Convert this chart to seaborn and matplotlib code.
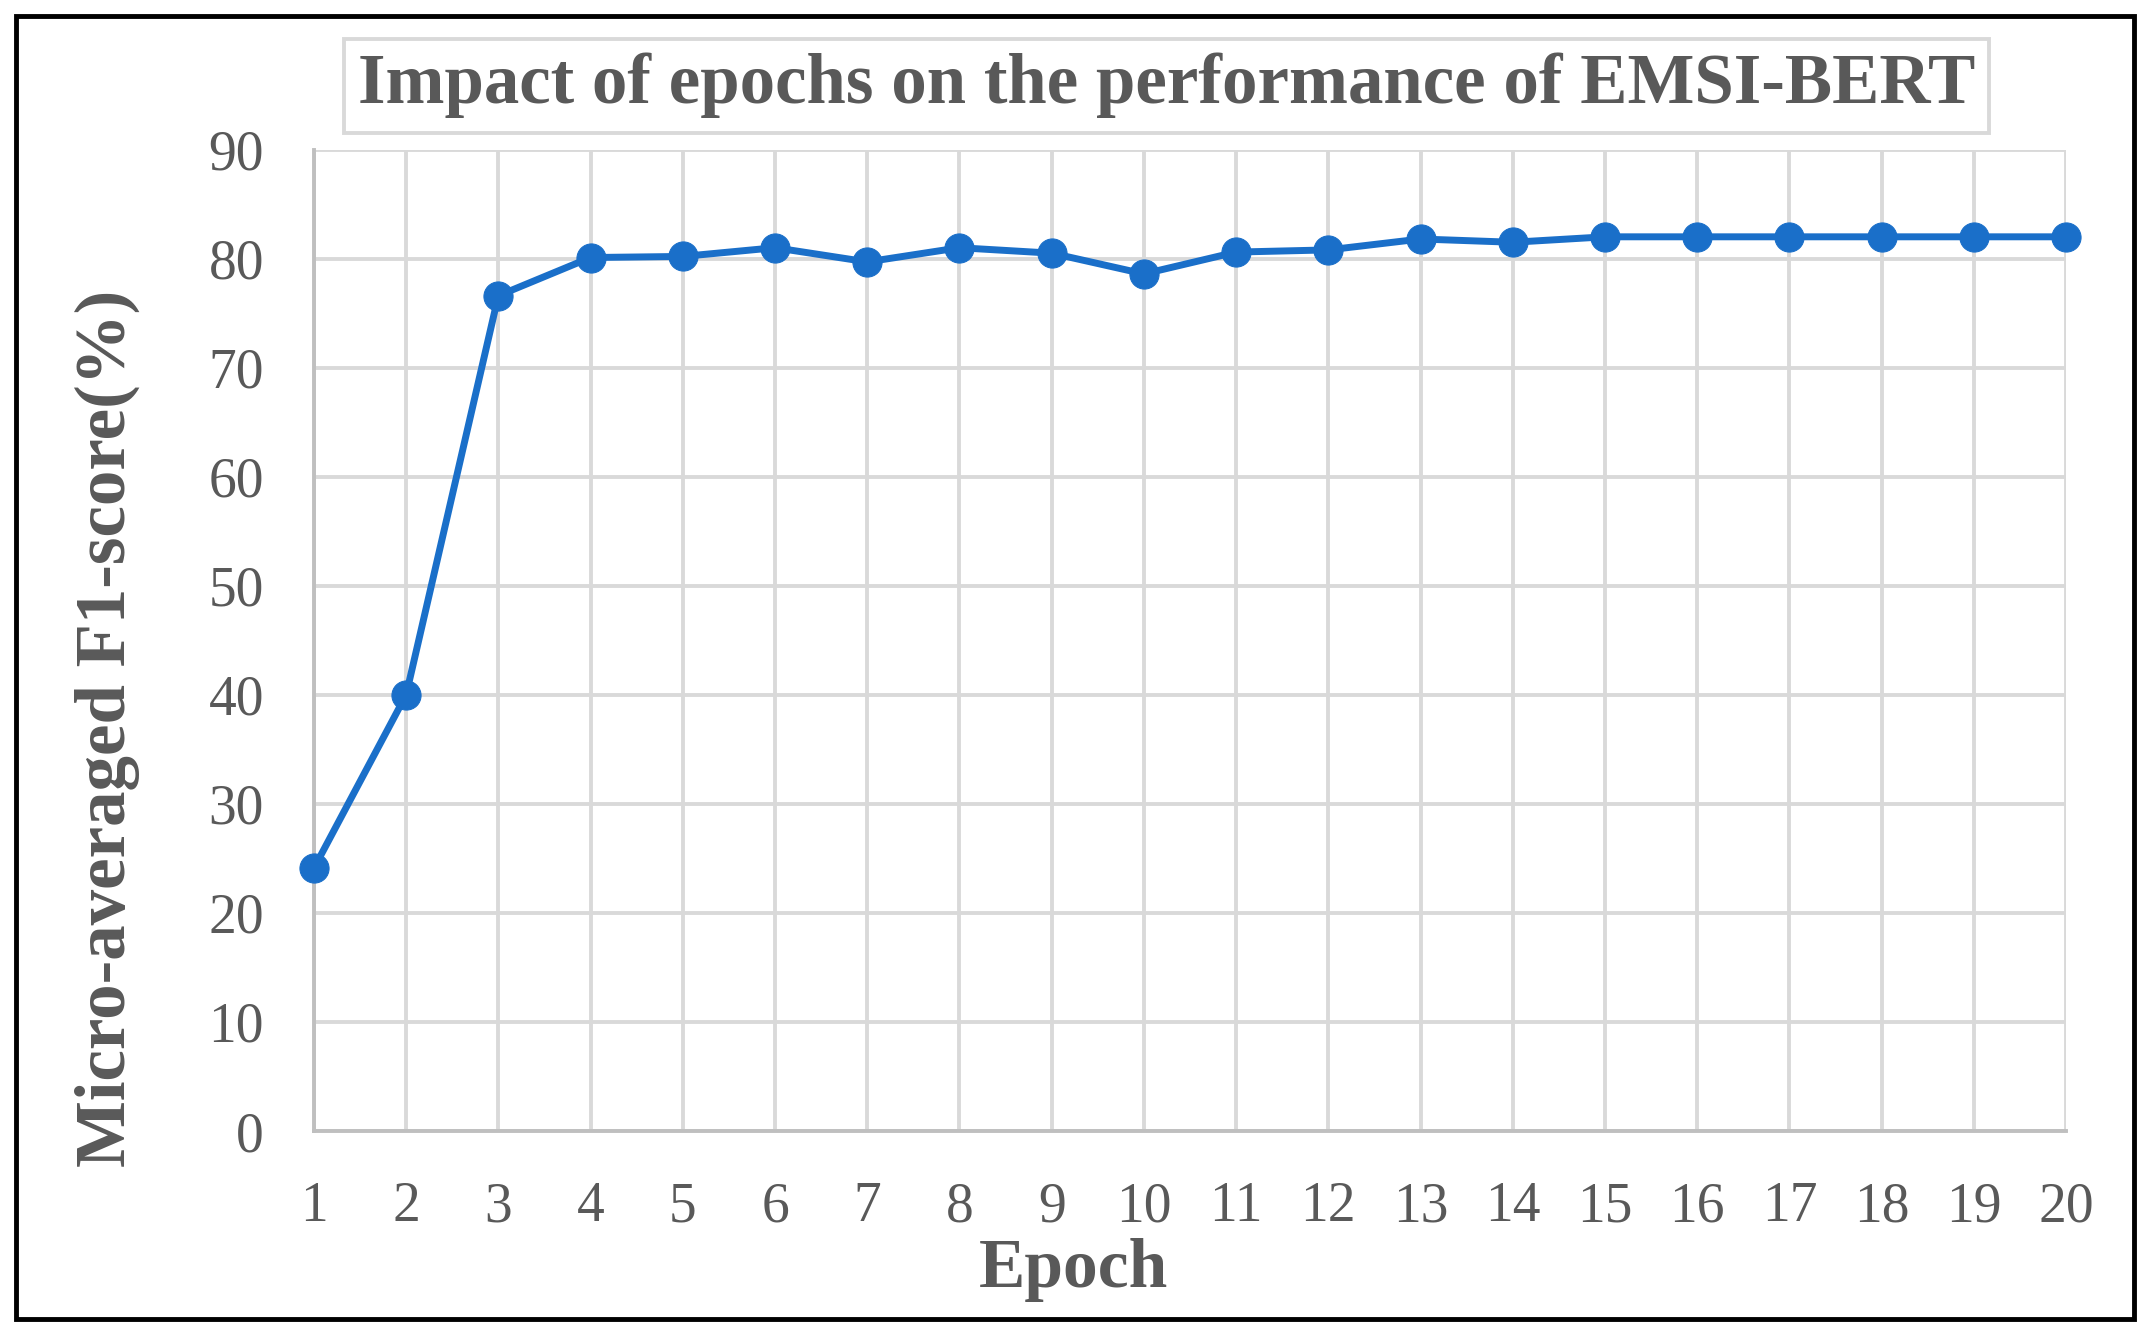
import pandas as pd
import seaborn as sns
import matplotlib.pyplot as plt
from matplotlib.patches import Rectangle

# values
epochs = list(range(1, 21))
f1_scores = [24.1, 40.0, 76.6, 80.1, 80.2, 81.0, 79.7, 81.0, 80.5, 78.6,
             80.6, 80.8, 81.8, 81.5, 82.0, 82.0, 82.0, 82.0, 82.0, 82.0]
y_ticks = list(range(0, 91, 10))

title = 'Impact of epochs on the performance of EMSI-BERT'
x_label = 'Epoch'
y_label = 'Micro-averaged F1-score(%)'

df = pd.DataFrame({'Epoch': epochs, 'F1': f1_scores})

sns.set_style('whitegrid')
plt.rcParams['font.family'] = ['Liberation Serif', 'DejaVu Serif']

text_gray = '#595959'
grid_gray = '#d9d9d9'
blue = '#1a6fc9'

fig = plt.figure(figsize=(21.5, 13.39), dpi=100)
ax = fig.add_axes([0.146, 0.1553, 0.815, 0.733])

sns.lineplot(data=df, x='Epoch', y='F1', ax=ax, color=blue, linewidth=5,
             marker='o', markersize=21, markeredgecolor=blue, clip_on=False, zorder=5)

ax.set_xlim(1, 20)
ax.set_ylim(0, 90)
ax.set_xticks(epochs)
ax.set_yticks(y_ticks)
ax.grid(True, color=grid_gray, linewidth=2.8)
ax.tick_params(axis='both', labelsize=40, labelcolor=text_gray, length=0)
ax.tick_params(axis='y', pad=36)
ax.tick_params(axis='x', pad=36)

for side in ['top', 'right']:
    ax.spines[side].set_visible(False)
for side in ['left', 'bottom']:
    ax.spines[side].set_color('#bfbfbf')
    ax.spines[side].set_linewidth(2.8)

# Excel put the axis title a bit left of centre
ax.set_xlabel(x_label, fontsize=50, fontweight='bold', color=text_gray)
ax.xaxis.set_label_coords(0.4335, -0.142)
ax.xaxis.label.set_va('center')
ax.set_ylabel(y_label, fontsize=51, fontweight='bold', color=text_gray, va='center')
ax.yaxis.set_label_coords(-0.118, 0.41)

fig.text(0.5425, 0.936, title, fontsize=51, fontweight='bold', color=text_gray,
         ha='center', va='center',
         bbox=dict(boxstyle='square,pad=0.2', facecolor='white', edgecolor=grid_gray, linewidth=2.8))

# black frame around the whole picture
fig.patches.append(Rectangle((0.0075, 0.015), 0.985, 0.973, transform=fig.transFigure,
                             fill=False, edgecolor='black', linewidth=3.5))

fig.savefig('out.png', dpi=100)
